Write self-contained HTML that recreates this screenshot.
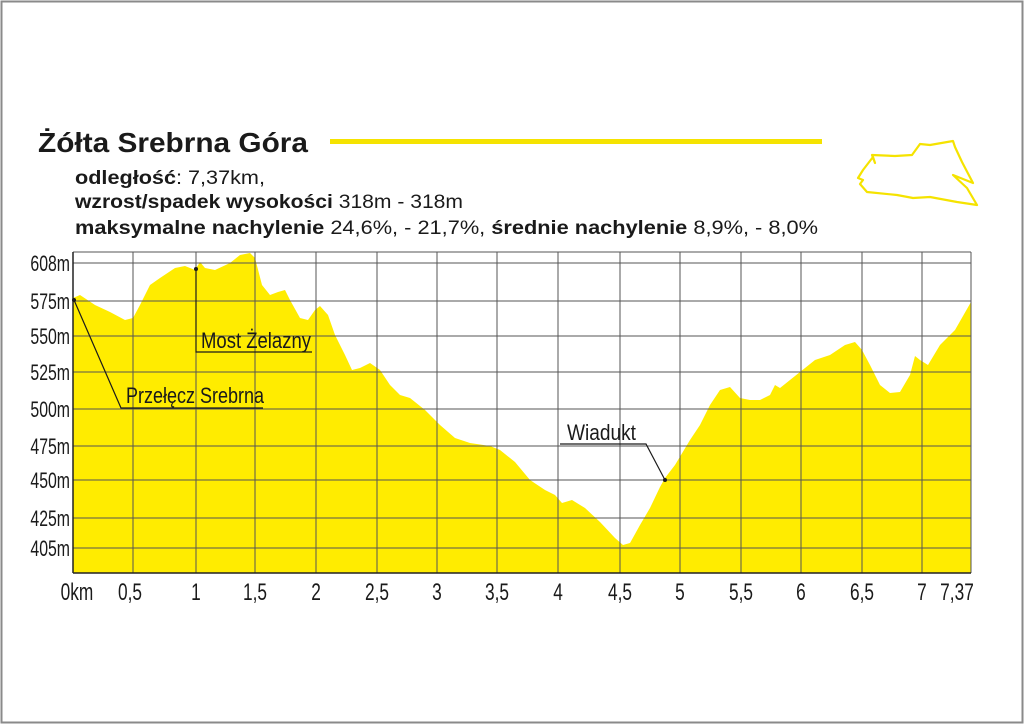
<!DOCTYPE html>
<html><head><meta charset="utf-8"><style>
html,body{margin:0;padding:0;background:#fff}
svg{display:block}
</style></head><body>
<svg width="1024" height="724" viewBox="0 0 1024 724" xmlns="http://www.w3.org/2000/svg" font-family="Liberation Sans, sans-serif">
<rect x="1.5" y="1.5" width="1021" height="721" fill="none" stroke="#8a8a8a" stroke-width="2"/>
<text x="38" y="152" font-size="28" font-weight="bold" fill="#1a1a1a" textLength="270" lengthAdjust="spacingAndGlyphs">Żółta Srebrna Góra</text>
<rect x="330" y="139" width="492" height="5" fill="#f5e300"/>
<text x="75" y="184" font-size="19" fill="#1a1a1a" textLength="190" lengthAdjust="spacingAndGlyphs"><tspan font-weight="bold">odległość</tspan>: 7,37km,</text>
<text x="75" y="208" font-size="19" fill="#1a1a1a" textLength="388" lengthAdjust="spacingAndGlyphs"><tspan font-weight="bold">wzrost/spadek wysokości</tspan> 318m - 318m</text>
<text x="75" y="234" font-size="19" fill="#1a1a1a" textLength="743" lengthAdjust="spacingAndGlyphs"><tspan font-weight="bold">maksymalne nachylenie</tspan> 24,6%, - 21,7%, <tspan font-weight="bold">średnie nachylenie</tspan> 8,9%, - 8,0%</text>
<path d="M863,170 L873,157 L875,163 L872,155 L895,156 L912,155 L920,144 L930,145 L953,141 L955,147 L962,162 L973,183 L953,175 L967,188 L977,205 L957,202 L930,197 L913,198 L897,195 L867,192 L860,184 L863,180 L858,178 Z" fill="none" stroke="#f5e300" stroke-width="2.2" stroke-linejoin="round"/>
<path d="M73,298 L80,295 L95,305 L110,312 L125,320 L133,318 L140,305 L150,285 L160,278 L175,268 L185,266 L195,270 L200,262 L205,268 L215,270 L230,263 L240,255 L250,253 L255,258 L262,285 L270,295 L278,292 L285,290 L290,300 L300,318 L308,320 L315,310 L320,306 L328,315 L335,335 L345,355 L352,370 L360,368 L370,363 L380,370 L390,385 L400,395 L410,398 L425,410 L440,425 L455,438 L470,443 L490,446 L500,450 L515,462 L530,480 L545,490 L555,495 L562,503 L572,500 L585,508 L600,522 L615,538 L623,545 L630,543 L640,525 L650,508 L660,487 L665,478 L675,465 L690,440 L700,425 L710,405 L720,390 L730,387 L740,398 L750,400 L760,400 L770,395 L775,385 L780,388 L790,380 L800,372 L815,360 L830,355 L845,345 L855,342 L862,350 L870,365 L880,385 L890,393 L900,392 L910,375 L915,356 L920,360 L928,365 L940,345 L955,330 L971,302 L971,573 L73,573 Z" fill="#ffec00"/>
<g stroke="#555" stroke-width="1" fill="none">
<line x1="73" y1="252" x2="971" y2="252"/>
<line x1="73" y1="263" x2="971" y2="263"/>
<line x1="73" y1="301" x2="971" y2="301"/>
<line x1="73" y1="336" x2="971" y2="336"/>
<line x1="73" y1="372" x2="971" y2="372"/>
<line x1="73" y1="409" x2="971" y2="409"/>
<line x1="73" y1="446" x2="971" y2="446"/>
<line x1="73" y1="480" x2="971" y2="480"/>
<line x1="73" y1="518" x2="971" y2="518"/>
<line x1="73" y1="548" x2="971" y2="548"/>
<line x1="133" y1="252" x2="133" y2="573"/>
<line x1="196" y1="252" x2="196" y2="573"/>
<line x1="255" y1="252" x2="255" y2="573"/>
<line x1="316" y1="252" x2="316" y2="573"/>
<line x1="377" y1="252" x2="377" y2="573"/>
<line x1="437" y1="252" x2="437" y2="573"/>
<line x1="497" y1="252" x2="497" y2="573"/>
<line x1="558" y1="252" x2="558" y2="573"/>
<line x1="620" y1="252" x2="620" y2="573"/>
<line x1="680" y1="252" x2="680" y2="573"/>
<line x1="741" y1="252" x2="741" y2="573"/>
<line x1="801" y1="252" x2="801" y2="573"/>
<line x1="862" y1="252" x2="862" y2="573"/>
<line x1="922" y1="252" x2="922" y2="573"/>
<line x1="971" y1="252" x2="971" y2="573"/>
</g>
<line x1="73" y1="252" x2="73" y2="573" stroke="#222" stroke-width="1.5"/>
<line x1="73" y1="573" x2="971" y2="573" stroke="#222" stroke-width="1.5"/>
<g font-size="22" fill="#1a1a1a" text-anchor="end">
<text x="70" y="271" transform="translate(70 0) scale(0.72 1) translate(-70 0)">608m</text>
<text x="70" y="309" transform="translate(70 0) scale(0.72 1) translate(-70 0)">575m</text>
<text x="70" y="344" transform="translate(70 0) scale(0.72 1) translate(-70 0)">550m</text>
<text x="70" y="380" transform="translate(70 0) scale(0.72 1) translate(-70 0)">525m</text>
<text x="70" y="417" transform="translate(70 0) scale(0.72 1) translate(-70 0)">500m</text>
<text x="70" y="454" transform="translate(70 0) scale(0.72 1) translate(-70 0)">475m</text>
<text x="70" y="488" transform="translate(70 0) scale(0.72 1) translate(-70 0)">450m</text>
<text x="70" y="526" transform="translate(70 0) scale(0.72 1) translate(-70 0)">425m</text>
<text x="70" y="556" transform="translate(70 0) scale(0.72 1) translate(-70 0)">405m</text>
</g>
<g font-size="24" fill="#1a1a1a" text-anchor="middle">
<text x="77" y="600" transform="translate(77 0) scale(0.72 1) translate(-77 0)">0km</text>
<text x="130" y="600" transform="translate(130 0) scale(0.72 1) translate(-130 0)">0,5</text>
<text x="196" y="600" transform="translate(196 0) scale(0.72 1) translate(-196 0)">1</text>
<text x="255" y="600" transform="translate(255 0) scale(0.72 1) translate(-255 0)">1,5</text>
<text x="316" y="600" transform="translate(316 0) scale(0.72 1) translate(-316 0)">2</text>
<text x="377" y="600" transform="translate(377 0) scale(0.72 1) translate(-377 0)">2,5</text>
<text x="437" y="600" transform="translate(437 0) scale(0.72 1) translate(-437 0)">3</text>
<text x="497" y="600" transform="translate(497 0) scale(0.72 1) translate(-497 0)">3,5</text>
<text x="558" y="600" transform="translate(558 0) scale(0.72 1) translate(-558 0)">4</text>
<text x="620" y="600" transform="translate(620 0) scale(0.72 1) translate(-620 0)">4,5</text>
<text x="680" y="600" transform="translate(680 0) scale(0.72 1) translate(-680 0)">5</text>
<text x="741" y="600" transform="translate(741 0) scale(0.72 1) translate(-741 0)">5,5</text>
<text x="801" y="600" transform="translate(801 0) scale(0.72 1) translate(-801 0)">6</text>
<text x="862" y="600" transform="translate(862 0) scale(0.72 1) translate(-862 0)">6,5</text>
<text x="922" y="600" transform="translate(922 0) scale(0.72 1) translate(-922 0)">7</text>
<text x="957" y="600" transform="translate(957 0) scale(0.72 1) translate(-957 0)">7,37</text>
</g>
<g stroke="#1a1a1a" stroke-width="1.2" fill="none">
<polyline points="74,300 121,408 263,408"/>
<polyline points="196,269 196,352 312,352"/>
<polyline points="560,444 646,444 665,480"/>
</g>
<circle cx="74" cy="300" r="2" fill="#1a1a1a"/>
<circle cx="196" cy="269" r="2" fill="#1a1a1a"/>
<circle cx="665" cy="480" r="2" fill="#1a1a1a"/>
<g font-size="22" fill="#1a1a1a">
<text x="126" y="403" textLength="138" lengthAdjust="spacingAndGlyphs">Przełęcz Srebrna</text>
<text x="201" y="348" textLength="110" lengthAdjust="spacingAndGlyphs">Most Żelazny</text>
<text x="567" y="440" textLength="69" lengthAdjust="spacingAndGlyphs">Wiadukt</text>
</g>
</svg>
</body></html>
